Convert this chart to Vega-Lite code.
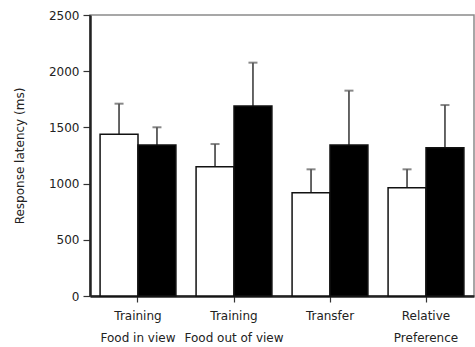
{
  "$schema": "https://vega.github.io/schema/vega-lite/v6.json",
  "width": 384,
  "height": 281,
  "autosize": {"type": "none"},
  "padding": {"left": 90, "top": 15, "right": 1, "bottom": 51},
  "background": "white",
  "config": {
    "view": {"stroke": "#8a8a8a", "strokeWidth": 1.5},
    "font": "DejaVu Sans",
    "axis": {
      "labelFont": "DejaVu Sans",
      "labelFontSize": 12,
      "labelColor": "#222",
      "titleFont": "DejaVu Sans",
      "titleFontSize": 12,
      "titleFontWeight": "normal",
      "titleColor": "#222",
      "domainColor": "#222",
      "domainWidth": 2.5,
      "tickColor": "#333",
      "tickWidth": 1.2,
      "grid": false,
      "zindex": 1
    }
  },
  "data": {
    "values": [
      {"cat": "Training|Food in view", "cond": "A", "value": 1438, "upper": 1711},
      {"cat": "Training|Food in view", "cond": "B", "value": 1343, "upper": 1501},
      {"cat": "Training|Food out of view", "cond": "A", "value": 1150, "upper": 1352},
      {"cat": "Training|Food out of view", "cond": "B", "value": 1690, "upper": 2076},
      {"cat": "Transfer", "cond": "A", "value": 919, "upper": 1127},
      {"cat": "Transfer", "cond": "B", "value": 1343, "upper": 1827},
      {"cat": "Relative|Preference", "cond": "A", "value": 964, "upper": 1127},
      {"cat": "Relative|Preference", "cond": "B", "value": 1320, "upper": 1699}
    ]
  },
  "encoding": {
    "x": {
      "field": "cat",
      "type": "nominal",
      "sort": null,
      "scale": {"paddingInner": 0.21, "paddingOuter": 0.105},
      "axis": {
        "title": null,
        "labelAngle": 0,
        "labelExpr": "split(datum.label, '|')",
        "labelLineHeight": 22,
        "labelBaseline": "top",
        "labelPadding": 8,
        "tickSize": 6
      }
    },
    "xOffset": {
      "field": "cond",
      "type": "nominal",
      "scale": {"paddingInner": 0, "paddingOuter": 0}
    }
  },
  "layer": [
    {
      "mark": {"type": "rule", "color": "#555", "strokeWidth": 1.8},
      "encoding": {
        "y": {"field": "value", "type": "quantitative"},
        "y2": {"field": "upper"}
      }
    },
    {
      "mark": {"type": "tick", "color": "#555", "thickness": 2, "size": 9},
      "encoding": {
        "y": {"field": "upper", "type": "quantitative"}
      }
    },
    {
      "mark": {"type": "bar", "stroke": "#111", "strokeWidth": 1.5},
      "encoding": {
        "y": {
          "field": "value",
          "type": "quantitative",
          "scale": {"domain": [0, 2500], "nice": false},
          "axis": {
            "title": "Response latency (ms)",
            "values": [0, 500, 1000, 1500, 2000, 2500],
            "format": "d",
            "tickSize": 7,
            "labelPadding": 4,
            "titlePadding": 22
          }
        },
        "fill": {
          "field": "cond",
          "type": "nominal",
          "scale": {"domain": ["A", "B"], "range": ["white", "black"]},
          "legend": null
        }
      }
    }
  ]
}
